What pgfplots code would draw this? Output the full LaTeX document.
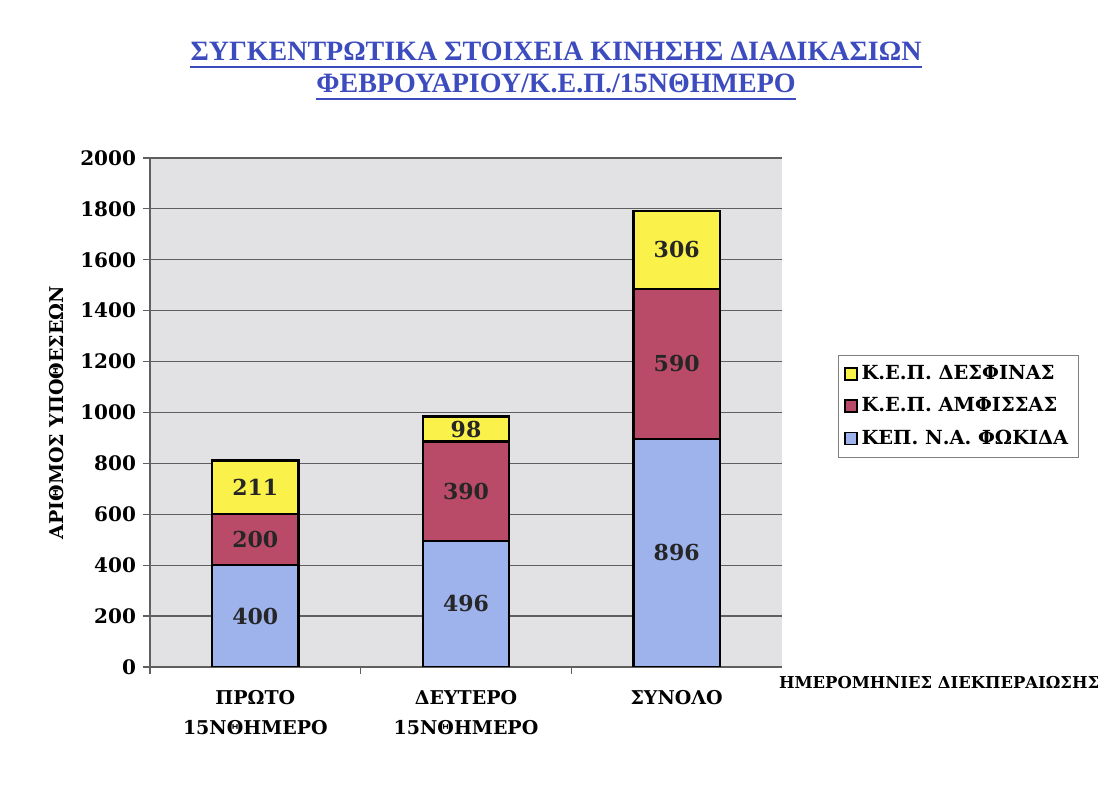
\documentclass[border=0pt]{standalone}
\usepackage{pgfplots}
\usepackage{pgfplotstable}
\pgfplotsset{compat=1.18}
\usepackage{fontspec}
\setmainfont{DejaVu Serif}
\newfontfamily\titlefont{Liberation Serif}
\definecolor{cblue}{RGB}{158,178,236}
\definecolor{cred}{RGB}{185,75,105}
\definecolor{cyellow}{RGB}{250,242,75}
\definecolor{ctitle}{RGB}{60,75,190}
\definecolor{cbg}{RGB}{226,226,228}
\definecolor{cgrid}{RGB}{95,95,95}
\pgfplotstableread{
x blue red yellow
0 400 200 211
1 496 390 98
2 896 590 306
}\data
\begin{document}
\begin{tikzpicture}[x=1pt,y=1pt]
\useasboundingbox (0,0) rectangle (549.5,404);
\node[font=\titlefont\bfseries\fontsize{14}{16}\selectfont, text=ctitle, anchor=base, inner sep=0pt] (t1) at (278,373.5) {ΣΥΓΚΕΝΤΡΩΤΙΚΑ ΣΤΟΙΧΕΙΑ ΚΙΝΗΣΗΣ ΔΙΑΔΙΚΑΣΙΩΝ};
\node[font=\titlefont\bfseries\fontsize{14}{16}\selectfont, text=ctitle, anchor=base, inner sep=0pt] (t2) at (278,357.5) {ΦΕΒΡΟΥΑΡΙΟΥ/Κ.Ε.Π./15ΝΘΗΜΕΡΟ};
\draw[ctitle, line width=1.1pt] ([yshift=-3pt]t1.base west) -- ([yshift=-3pt]t1.base east);
\draw[ctitle, line width=1.1pt] ([yshift=-3pt]t2.base west) -- ([yshift=-3pt]t2.base east);
\begin{axis}[
  at={(75pt,70.5pt)}, anchor=south west,
  scale only axis, width=316pt, height=254.5pt,
  ybar stacked, bar width=0.41,
  xmin=-0.5, xmax=2.5, ymin=0, ymax=2000,
  axis lines*=left,
  axis line style={cgrid, line width=0.6pt},
  axis background/.style={fill=cbg},
  ytick={0,200,...,2000},
  ymajorgrids, major grid style={cgrid, line width=0.6pt},
  tick align=outside, major tick length=3.5pt,
  tick style={cgrid, line width=0.6pt},
  /pgf/number format/assume math mode=true,
  /pgf/number format/1000 sep={},
  yticklabel style={font=\bfseries\fontsize{10}{11}\selectfont},
  xtick={-0.5,0.5,1.5}, xticklabels={},
  extra x ticks={0,1,2},
  extra x tick labels={{ΠΡΩΤΟ\\15ΝΘΗΜΕΡΟ},{ΔΕΥΤΕΡΟ\\15ΝΘΗΜΕΡΟ},{ΣΥΝΟΛΟ}},
  extra x tick style={major tick length=0pt, xticklabel style={align=center, anchor=north, yshift=-8pt, font=\bfseries\fontsize{9.5}{15}\selectfont}},
  ylabel={ΑΡΙΘΜΟΣ ΥΠΟΘΕΣΕΩΝ},
  every axis y label/.style={at={(axis description cs:0,0.5)}, xshift=-46.5pt, rotate=90, anchor=center, font=\bfseries\fontsize{9.5}{11}\selectfont},
  xlabel={ΗΜΕΡΟΜΗΝΙΕΣ ΔΙΕΚΠΕΡΑΙΩΣΗΣ},
  every axis x label/.style={at={(axis description cs:1,0)}, xshift=-5pt, yshift=-1pt, anchor=north west, font=\bfseries\fontsize{8.2}{10}\selectfont},
  legend style={at={(rel axis cs:1.0886,0.613)}, anchor=north west, draw=gray, fill=white, font=\bfseries\fontsize{9.7}{11}\selectfont, row sep=3.5pt, inner xsep=3pt, inner ysep=3pt},
  legend cell align=left,
  reverse legend,
  sqleg/.style={legend image code/.code={\draw[##1, draw=black, line width=0.6pt] (0pt,-3pt) rectangle (6pt,3pt);}},
  nodes near coords,
  every node near coord/.append style={anchor=center, font=\bfseries\fontsize{11}{12}\selectfont, text=black!85},
]
\addplot[fill=cblue, draw=black, line width=1.1pt, sqleg] table[x=x,y=blue] {\data};
\addplot[fill=cred, draw=black, line width=1.1pt, sqleg] table[x=x,y=red] {\data};
\addplot[fill=cyellow, draw=black, line width=1.1pt, sqleg] table[x=x,y=yellow] {\data};
\legend{ΚΕΠ. Ν.Α. ΦΩΚΙΔΑ, Κ.Ε.Π. ΑΜΦΙΣΣΑΣ, Κ.Ε.Π. ΔΕΣΦΙΝΑΣ}
\end{axis}
\end{tikzpicture}
\end{document}
